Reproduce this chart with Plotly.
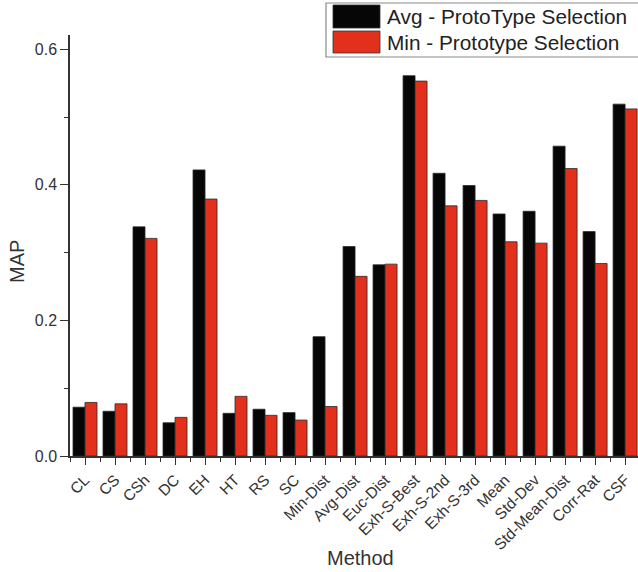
import plotly.graph_objects as go

methods = ["CL", "CS", "CSh", "DC", "EH", "HT", "RS", "SC", "Min-Dist", "Avg-Dist",
           "Euc-Dist", "Exh-S-Best", "Exh-S-2nd", "Exh-S-3rd", "Mean", "Std-Dev",
           "Std-Mean-Dist", "Corr-Rat", "CSF"]
avg_map = [0.072, 0.066, 0.338, 0.049, 0.422, 0.063, 0.069, 0.064, 0.176, 0.309,
           0.282, 0.561, 0.417, 0.399, 0.357, 0.361, 0.457, 0.331, 0.519]
min_map = [0.079, 0.077, 0.321, 0.057, 0.379, 0.088, 0.060, 0.053, 0.073, 0.265,
           0.283, 0.553, 0.369, 0.377, 0.316, 0.314, 0.424, 0.284, 0.512]
series_names = ["Avg - ProtoType Selection", "Min - Prototype Selection"]
series_colors = ["#060606", "#E2301C"]

xpos = list(range(len(methods)))
font = "Liberation Sans, Arial, sans-serif"

W, H = 638, 572
L, R, T, B = 70, 0, 35, 116
PW, PH = W - L - R, H - T - B


def px(x):
    return (x - L) / PW


def py(y):
    return (H - B - y) / PH


fig = go.Figure()
for vals, name, col in zip([avg_map, min_map], series_names, series_colors):
    fig.add_trace(go.Bar(x=xpos, y=vals, name=name, showlegend=False,
                         marker=dict(color=col, line=dict(color="#2a2a2a", width=0.8))))

# manual legend (box, swatches, labels)
shapes = [dict(type="rect", xref="paper", yref="paper", x0=px(326), x1=px(645), y0=py(57), y1=py(3),
               line=dict(color="#8a8a8a", width=1.2), fillcolor="white", layer="above")]
annots = []
rows = [(5, 28), (31, 53)]
for (y0, y1), name, col in zip(rows, series_names, series_colors):
    shapes.append(dict(type="rect", xref="paper", yref="paper", x0=px(333), x1=px(380),
                       y0=py(y1), y1=py(y0), fillcolor=col,
                       line=dict(color="#333", width=0.8), layer="above"))
    annots.append(dict(text=name, xref="paper", yref="paper", x=px(385), y=py((y0 + y1) / 2),
                       xanchor="left", yanchor="middle", showarrow=False,
                       font=dict(size=20.8, color="#222", family=font)))

annots.append(dict(text="Method", xref="paper", yref="paper", x=px(360), y=py(558),
                   xanchor="center", yanchor="middle", showarrow=False,
                   font=dict(size=20, color="#333", family=font)))
annots.append(dict(text="MAP", xref="paper", yref="paper", x=px(17), y=py(262),
                   xanchor="center", yanchor="middle", showarrow=False, textangle=-90,
                   font=dict(size=20, color="#333", family=font)))

fig.update_layout(
    width=W, height=H,
    margin=dict(l=L, r=R, t=T, b=B, autoexpand=False),
    barmode="group", bargap=0.2, bargroupgap=0,
    plot_bgcolor="white", paper_bgcolor="white",
    font=dict(family=font, color="#333", size=15),
    showlegend=False,
    shapes=shapes, annotations=annots,
    xaxis=dict(range=[-0.5, 18.43], tickmode="array", tickvals=xpos, ticktext=methods,
               tickangle=-45, ticks="outside", ticklen=7, tickcolor="#333", automargin=False,
               showline=True, linecolor="#333", linewidth=1.5, showgrid=False,
               zeroline=False, tickfont=dict(size=15.5, color="#333"),
               minor=dict(tickmode="linear", tick0=-0.5, dtick=1, ticks="outside",
                          ticklen=4, tickcolor="#333", showgrid=False)),
    yaxis=dict(range=[0, 0.621], tickvals=[0, 0.2, 0.4, 0.6], ticktext=["0.0", "0.2", "0.4", "0.6"],
               ticks="outside", ticklen=8, tickcolor="#333", automargin=False,
               showline=True, linecolor="#333", linewidth=1.5, showgrid=False, zeroline=False,
               tickfont=dict(size=16, color="#333"),
               minor=dict(tickvals=[0.1, 0.3, 0.5], ticks="outside", ticklen=4, tickcolor="#333",
                          showgrid=False)),
)

fig.write_html("out.html", config={"displayModeBar": False},
               post_script="document.body.style.margin='0';document.body.style.overflow='hidden';")
